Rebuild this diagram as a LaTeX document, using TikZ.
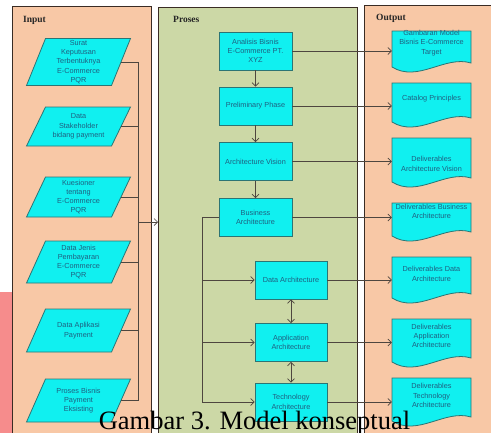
\documentclass[tikz,border=0pt]{standalone}
\usepackage{fontspec}
\setmainfont{Liberation Serif}
\setsansfont{Liberation Sans}
\usetikzlibrary{arrows.meta,calc}
\definecolor{peach}{HTML}{F8C8A6}
\definecolor{sage}{HTML}{CCD8A6}
\definecolor{cyanfill}{HTML}{10F0F0}
\definecolor{tealline}{HTML}{2C7474}
\definecolor{tealtext}{HTML}{1F5F80}
\definecolor{connc}{HTML}{4E463F}
\definecolor{panelline}{HTML}{3A2C24}
\definecolor{pinkside}{HTML}{F68C8C}
\newcommand\inpara[4]{%
  \draw[inshape] ($(78.5,#2)+(-33,-#3/2)$) -- ($(78.5,#2)+(52,-#3/2)$) -- ($(78.5,#2)+(33,#3/2)$) -- ($(78.5,#2)+(-52,#3/2)$) -- cycle;
  \node[shapetext, minimum width=85pt, minimum height=#3pt] (#1) at (78.5,#2) {#4};
}
\newcommand\docshape[5]{%
  \draw[inshape] (392,#2) -- (471,#2) -- (471,#3-4) .. controls (445,#3-12) and (418,#3+16) .. (392,#3) -- cycle;
  \node[shapetext, minimum width=79pt, inner sep=0pt] (#1) at (431.5,#4) {#5};
}
\begin{document}
\begin{tikzpicture}[x=1pt,y=-1pt,
  panel/.style={draw=panelline, line width=1.2pt, anchor=north west, inner sep=0pt},
  title/.style={font=\fontsize{9.5}{11}\selectfont\bfseries, text=black!85, anchor=west, inner sep=0pt},
  shapetext/.style={font=\sffamily\fontsize{7.3}{9.3}\selectfont, text=tealtext, align=center, inner sep=1pt},
  procbox/.style={shapetext, draw=tealline, fill=cyanfill, line width=0.8pt, minimum width=73pt, minimum height=38pt},
  inshape/.style={draw=tealline, fill=cyanfill, line width=0.8pt},
  conn/.style={draw=connc, line width=0.7pt},
  arr/.style={conn, -{Straight Barb[length=3.5pt,width=7pt]}},
  darr/.style={conn, {Straight Barb[length=3.5pt,width=7pt]}-{Straight Barb[length=3.5pt,width=7pt]}},
  caption/.style={font=\fontsize{26.5}{30}\selectfont, anchor=base, inner sep=0pt}
]
\useasboundingbox (0,0) rectangle (491,432);
\fill[white] (0,0) rectangle (491,432);
\fill[pinkside] (0,292) rectangle (12,440);

% panels
\node[panel, fill=peach, minimum width=139pt, minimum height=440pt] (input) at (12,6) {};
\node[panel, fill=sage, minimum width=199pt, minimum height=440pt] (proses) at (158,7) {};
\node[panel, fill=peach, minimum width=140pt, minimum height=440pt] (output) at (364,5) {};
\node[title] (tin) at (23,20) {Input};
\node[title] (tpr) at (173,19) {Proses};
\node[title] (tout) at (376,18) {Output};

% input shapes
\inpara{s1}{62}{47}{Surat\\Keputusan\\Terbentuknya\\E-Commerce\\PQR}
\inpara{s2}{126.5}{39}{Data\\Stakeholder\\bidang payment}
\inpara{s3}{197}{40}{Kuesioner\\tentang\\E-Commerce\\PQR}
\inpara{s4}{262}{42}{Data Jenis\\Pembayaran\\E-Commerce\\PQR}
\inpara{s5}{330.5}{43}{Data Aplikasi\\Payment}
\inpara{s6}{400.5}{43}{Proses Bisnis\\Payment\\Eksisting}

% process boxes
\node[procbox] (ana) at (255.5,51) {Analisis Bisnis\\E-Commerce PT.\\XYZ};
\node[procbox] (pre) at (255.5,106) {Preliminary Phase};
\node[procbox] (vis) at (255.5,161.5) {Architecture Vision};
\node[procbox] (bus) at (255.5,217.5) {Business\\Architecture};
\node[procbox, minimum width=72pt] (dat) at (291,280) {Data Architecture};
\node[procbox, minimum width=72pt] (app) at (291,342.5) {Application\\Architecture};
\node[procbox, minimum width=72pt] (tec) at (291,402) {Technology\\Architecture};

% output documents
\docshape{gmb}{31}{67}{43}{Gambaran Model\\Bisnis E-Commerce\\Target}
\docshape{cat}{83}{122}{99}{Catalog Principles}
\docshape{dav}{138}{182}{164}{Deliverables\\Architecture Vision}
\docshape{dba}{203}{236}{211.5}{Deliverables Business\\Architecture}
\docshape{dda}{257}{298}{274}{Deliverables Data\\Architecture}
\docshape{dapp}{319}{362}{336}{Deliverables\\Application\\Architecture}
\docshape{dtec}{378}{421}{395.5}{Deliverables\\Technology\\Architecture}

% input connectors
\coordinate (inbus) at (138,222);
\foreach \s in {s1,s2,s3,s4,s5,s6} \draw[conn] (\s.east) -- (\s.east -| inbus);
\draw[conn] (s1.east -| inbus) -- (s6.east -| inbus);
\draw[arr] (inbus) -- (inbus -| proses.west);

% process connectors
\draw[arr] (ana.south) -- (pre.north);
\draw[arr] (pre.south) -- (vis.north);
\draw[arr] (vis.south) -- (bus.north);
\coordinate (br) at (202,217.5);
\draw[arr] (bus.west) -- (br) |- (tec.west);
\draw[arr] (br |- dat.west) -- (dat.west);
\draw[arr] (br |- app.west) -- (app.west);
\draw[darr] (dat.south) -- (app.north);
\draw[darr] (app.south) -- (tec.north);

% output connectors
\draw[arr] (ana.east) -- (ana.east -| gmb.west);
\draw[arr] (pre.east) -- (pre.east -| cat.west);
\draw[arr] (vis.east) -- (vis.east -| dav.west);
\draw[arr] (bus.east) -- (bus.east -| dba.west);
\draw[arr] (dat.east) -- (dat.east -| dda.west);
\draw[arr] (app.east) -- (app.east -| dapp.west);
\draw[arr] (tec.east) -- (tec.east -| dtec.west);

\node[caption] (cap) at (254.5,429) {Gambar 3. Model konseptual};
\end{tikzpicture}
\end{document}
